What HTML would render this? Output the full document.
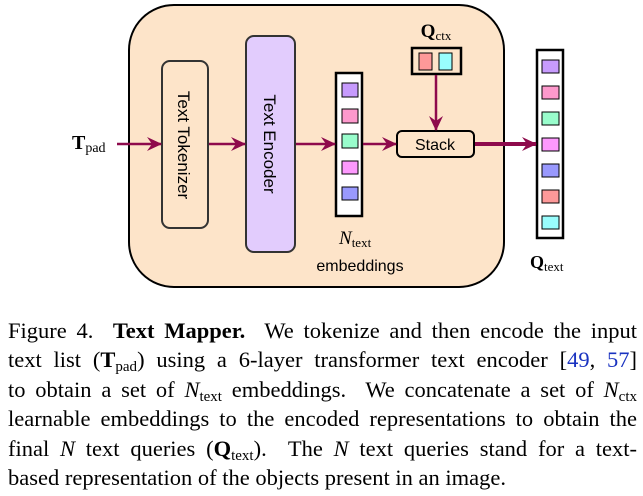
<!DOCTYPE html>
<html><head><meta charset="utf-8"><style>
body{margin:0;background:#fff;width:643px;height:496px;overflow:hidden;position:relative;font-family:"Liberation Serif",serif;}
svg{position:absolute;left:0;top:0;}
.cap{position:absolute;left:8px;width:629px;font-size:22.5px;line-height:29.4px;top:316px;color:#000;}
.cap div{text-align:justify;text-align-last:justify;white-space:nowrap;height:29.4px;}
.cap div.last{text-align-last:left;}
sub{font-size:15px;vertical-align:-4px;line-height:0;}
.b{color:#1a33c0;}
</style></head><body>
<svg width="643" height="300" viewBox="0 0 643 300">
<defs><marker id="a" markerWidth="16" markerHeight="16" refX="14" refY="8" orient="auto" markerUnits="userSpaceOnUse"><path d="M0,1 L15,8 L0,15 L5,8 Z" fill="#8e0a4c"/></marker></defs>
<rect x="129" y="5" width="375" height="282" rx="45" fill="#fde4c9" stroke="#000" stroke-width="2"/>
<rect x="162" y="61" width="46" height="167" rx="8" fill="#fde4c9" stroke="#333" stroke-width="2"/>
<text transform="translate(178,145) rotate(90)" text-anchor="middle" font-family="Liberation Sans" font-size="17">Text Tokenizer</text>
<rect x="246" y="36" width="49" height="216" rx="8" fill="#e2ccfd" stroke="#333" stroke-width="2"/>
<text transform="translate(264,144) rotate(90)" text-anchor="middle" font-family="Liberation Sans" font-size="17">Text Encoder</text>
<rect x="336" y="73" width="26" height="143" fill="#fff" stroke="#000" stroke-width="2.5"/>
<g stroke="#000" stroke-width="1">
<rect x="342" y="83" width="16" height="14" fill="#c79bfd"/>
<rect x="342" y="109" width="16" height="14" fill="#fd99cc"/>
<rect x="342" y="134" width="16" height="14" fill="#99fdcc"/>
<rect x="342" y="161" width="16" height="13" fill="#fd99fd"/>
<rect x="342" y="187" width="16" height="13" fill="#9999fd"/>
</g>
<rect x="412" y="48" width="49" height="26" fill="#fde4c9" stroke="#000" stroke-width="2.5"/>
<rect x="419" y="53" width="13" height="17" fill="#fd9999" stroke="#000"/>
<rect x="439" y="53" width="13" height="17" fill="#99fdfd" stroke="#000"/>
<text x="436" y="37" text-anchor="middle" font-size="19" font-weight="bold">Q<tspan font-size="13" font-weight="normal" dy="3">ctx</tspan></text>
<rect x="397" y="131" width="77" height="26" rx="5" fill="#fde4c9" stroke="#000" stroke-width="2"/>
<text x="435" y="150" text-anchor="middle" font-family="Liberation Sans" font-size="16">Stack</text>
<rect x="537" y="50" width="26" height="188" fill="#fff" stroke="#000" stroke-width="2.5"/>
<g stroke="#000" stroke-width="1">
<rect x="542" y="60" width="17" height="13" fill="#c79bfd"/>
<rect x="542" y="86" width="17" height="13" fill="#fd99cc"/>
<rect x="542" y="112" width="17" height="13" fill="#99fdcc"/>
<rect x="542" y="138" width="17" height="13" fill="#fd99fd"/>
<rect x="542" y="164" width="17" height="13" fill="#9999fd"/>
<rect x="542" y="190" width="17" height="13" fill="#fd9999"/>
<rect x="542" y="216" width="17" height="13" fill="#99fdfd"/>
</g>
<g stroke="#8e0a4c" stroke-width="2.5" fill="none">
<line x1="117" y1="144" x2="161" y2="144" marker-end="url(#a)"/>
<line x1="209" y1="144" x2="245" y2="144" marker-end="url(#a)"/>
<line x1="296" y1="144" x2="335" y2="144" marker-end="url(#a)"/>
<line x1="363" y1="144" x2="396" y2="144" marker-end="url(#a)"/>
<line x1="436" y1="75" x2="436" y2="130" marker-end="url(#a)"/>
<line x1="475" y1="144" x2="536" y2="144" stroke-width="4" marker-end="url(#a)"/>
</g>
<text x="72" y="149" font-size="20" font-weight="bold">T<tspan font-size="14" font-weight="normal" dy="3">pad</tspan></text>
<text x="339" y="244" font-size="19" font-style="italic">N<tspan font-size="13" font-style="normal" dy="3">text</tspan></text>
<text x="360" y="271" text-anchor="middle" font-family="Liberation Sans" font-size="16">embeddings</text>
<text x="530" y="268" font-size="18" font-weight="bold">Q<tspan font-size="13" font-weight="normal" dy="3">text</tspan></text>
</svg>
<div class="cap">
<div>Figure 4.&nbsp; <b>Text Mapper.</b>&nbsp; We tokenize and then encode the input</div>
<div>text list (<b>T</b><sub>pad</sub>) using a 6-layer transformer text encoder [<span class="b">49</span>, <span class="b">57</span>]</div>
<div>to obtain a set of <i>N</i><sub>text</sub> embeddings.&nbsp; We concatenate a set of <i>N</i><sub>ctx</sub></div>
<div>learnable embeddings to the encoded representations to obtain the</div>
<div>final <i>N</i> text queries (<b>Q</b><sub>text</sub>).&nbsp; The <i>N</i> text queries stand for a text-</div>
<div class="last">based representation of the objects present in an image.</div>
</div>
</body></html>
